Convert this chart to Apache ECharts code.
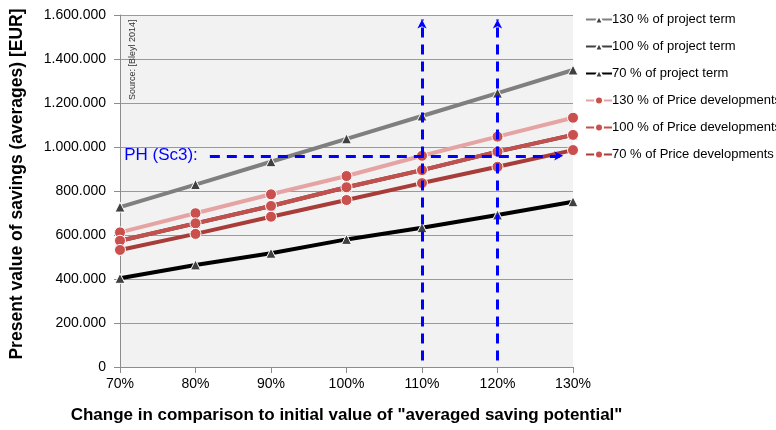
<!DOCTYPE html>
<html>
<head>
<meta charset="utf-8">
<script src="https://cdn.jsdelivr.net/npm/echarts@6/dist/echarts.min.js"></script>
<style>
  html, body { margin: 0; padding: 0; background: #fff; }
  #chart { width: 776px; height: 430px; }
</style>
</head>
<body>
<div id="chart"></div>
<script>
// Change of the averaged saving potential (x axis)
const categories = ['70%', '80%', '90%', '100%', '110%', '120%', '130%'];

// Present value of savings in EUR
const projectTerm130 = [727000, 829000, 933000, 1037000, 1141000, 1245000, 1350000];
const projectTerm100 = [574000, 653000, 732000, 817000, 895000, 979000, 1055000];
const projectTerm70  = [403000, 464000, 517000, 580000, 633000, 691000, 751000];
const price130 = [612000, 699000, 785000, 868000, 960000, 1047000, 1133000];
const price100 = [574000, 653000, 732000, 817000, 895000, 979000, 1055000];
const price70  = [532000, 605000, 683000, 759000, 836000, 910000, 986000];

const seriesNames = [
  '130 % of project term', '100 % of project term', '70 % of project term',
  '130 % of Price developments', '100 % of Price developments', '70 % of Price developments'
];

// Payback threshold and the two highlighted saving potentials
const phLevel = 960000;
const phLabel = 'PH (Sc3):';
const highlightCats = ['110%', '120%'];
// horizontal extent of the threshold arrow, in category steps from 70%
const phFrom = 1.19;
const phTo = 5.87;

const yTicks = { min: 0, max: 1600000, interval: 200000 };

function fmtThousands(v) {
  return String(Math.round(v)).replace(/\B(?=(\d{3})+(?!\d))/g, '.');
}

function lineSeries(name, data, lineColor, symbol, symbolColor, z) {
  return {
    name: name,
    type: 'line',
    data: data,
    z: z,
    symbol: symbol,
    symbolSize: symbol === 'circle' ? 11 : 10,
    showAllSymbol: true,
    lineStyle: { color: lineColor, width: 4 },
    itemStyle: { color: symbolColor, borderColor: '#ffffff', borderWidth: 1 },
    emphasis: { disabled: true },
    animation: false
  };
}

const chart = echarts.init(document.getElementById('chart'), null, { renderer: 'canvas' });

const blue = '#0000ff';
const dashStyle = { color: blue, width: 3, type: [10, 7] };
const catIndex = c => categories.indexOf(c);

const option = {
  animation: false,
  textStyle: { fontFamily: 'Liberation Sans, Arial, sans-serif' },
  grid: {
    left: 120, right: 203, top: 15, bottom: 63,
    containLabel: false,
    outerBoundsMode: 'none',
    show: true, backgroundColor: '#f2f2f2', borderWidth: 0
  },
  legend: {
    orient: 'vertical',
    left: 580, top: 8,
    itemWidth: 26, itemHeight: 10, itemGap: 14,
    data: seriesNames,
    textStyle: { fontSize: 13, color: '#000', padding: [0, 0, 0, -5] },
    selectedMode: false
  },
  xAxis: [{
    type: 'category',
    data: categories,
    boundaryGap: false,
    name: 'Change in comparison to initial value of "averaged saving potential"',
    nameLocation: 'middle',
    nameGap: 40,
    nameTextStyle: { fontSize: 17, fontWeight: 'bold', color: '#000' },
    axisLine: { lineStyle: { color: '#8c8c8c', width: 1 } },
    axisTick: { show: true, length: 6, lineStyle: { color: '#8c8c8c' } },
    axisLabel: { fontSize: 14, color: '#000', margin: 10 },
    splitLine: { show: false }
  }, {
    // continuous twin of the category axis, used to place the annotation arrows
    type: 'value',
    min: 0, max: categories.length - 1,
    show: false,
    splitLine: { show: false }
  }],
  yAxis: {
    type: 'value',
    min: yTicks.min, max: yTicks.max, interval: yTicks.interval,
    name: 'Present value of savings (averages) [EUR]',
    nameLocation: 'middle',
    nameGap: 94,
    nameRotate: 90,
    nameTextStyle: { fontSize: 17.5, fontWeight: 'bold', color: '#000', padding: [0, 0, 0, 14] },
    axisLine: { show: true, lineStyle: { color: '#8c8c8c', width: 1 } },
    axisTick: { show: true, length: 6, lineStyle: { color: '#8c8c8c' } },
    axisLabel: { fontSize: 14, color: '#000', margin: 14, formatter: fmtThousands },
    splitLine: { show: true, lineStyle: { color: '#9a9a9a', width: 1 } }
  },
  graphic: [{
    type: 'text',
    x: 133, y: 100,
    rotation: Math.PI / 2,
    style: {
      text: 'Source: [Bleyl 2014]',
      font: '9px Liberation Sans, Arial, sans-serif',
      fill: '#333',
      textAlign: 'left',
      textVerticalAlign: 'middle'
    },
    z: 20
  }],
  series: [
    lineSeries(seriesNames[0], projectTerm130, '#7f7f7f', 'triangle', '#404040', 2),
    lineSeries(seriesNames[1], projectTerm100, '#404040', 'triangle', '#404040', 2),
    lineSeries(seriesNames[2], projectTerm70, '#000000', 'triangle', '#404040', 2),
    lineSeries(seriesNames[3], price130, '#e6a3a3', 'circle', '#c9504d', 3),
    lineSeries(seriesNames[4], price100, '#c4504d', 'circle', '#c9504d', 3),
    lineSeries(seriesNames[5], price70, '#a83c39', 'circle', '#c9504d', 3),
    {
      name: 'annotations',
      type: 'line',
      xAxisIndex: 1,
      data: [],
      z: 10,
      markLine: {
        silent: true,
        animation: false,
        symbol: ['none', 'arrow'],
        symbolSize: [7, 9],
        lineStyle: dashStyle,
        label: { show: false },
        data: [
          [{ coord: [catIndex(highlightCats[0]), 30000] }, { coord: [catIndex(highlightCats[0]), 1580000] }],
          [{ coord: [catIndex(highlightCats[1]), 30000] }, { coord: [catIndex(highlightCats[1]), 1580000] }],
          [
            {
              coord: [phFrom, phLevel],
              label: {
                show: true, position: 'start', formatter: phLabel,
                color: blue, fontSize: 17, distance: 12
              }
            },
            { coord: [phTo, phLevel] }
          ]
        ]
      }
    }
  ]
};

chart.setOption(option);
</script>
</body>
</html>
